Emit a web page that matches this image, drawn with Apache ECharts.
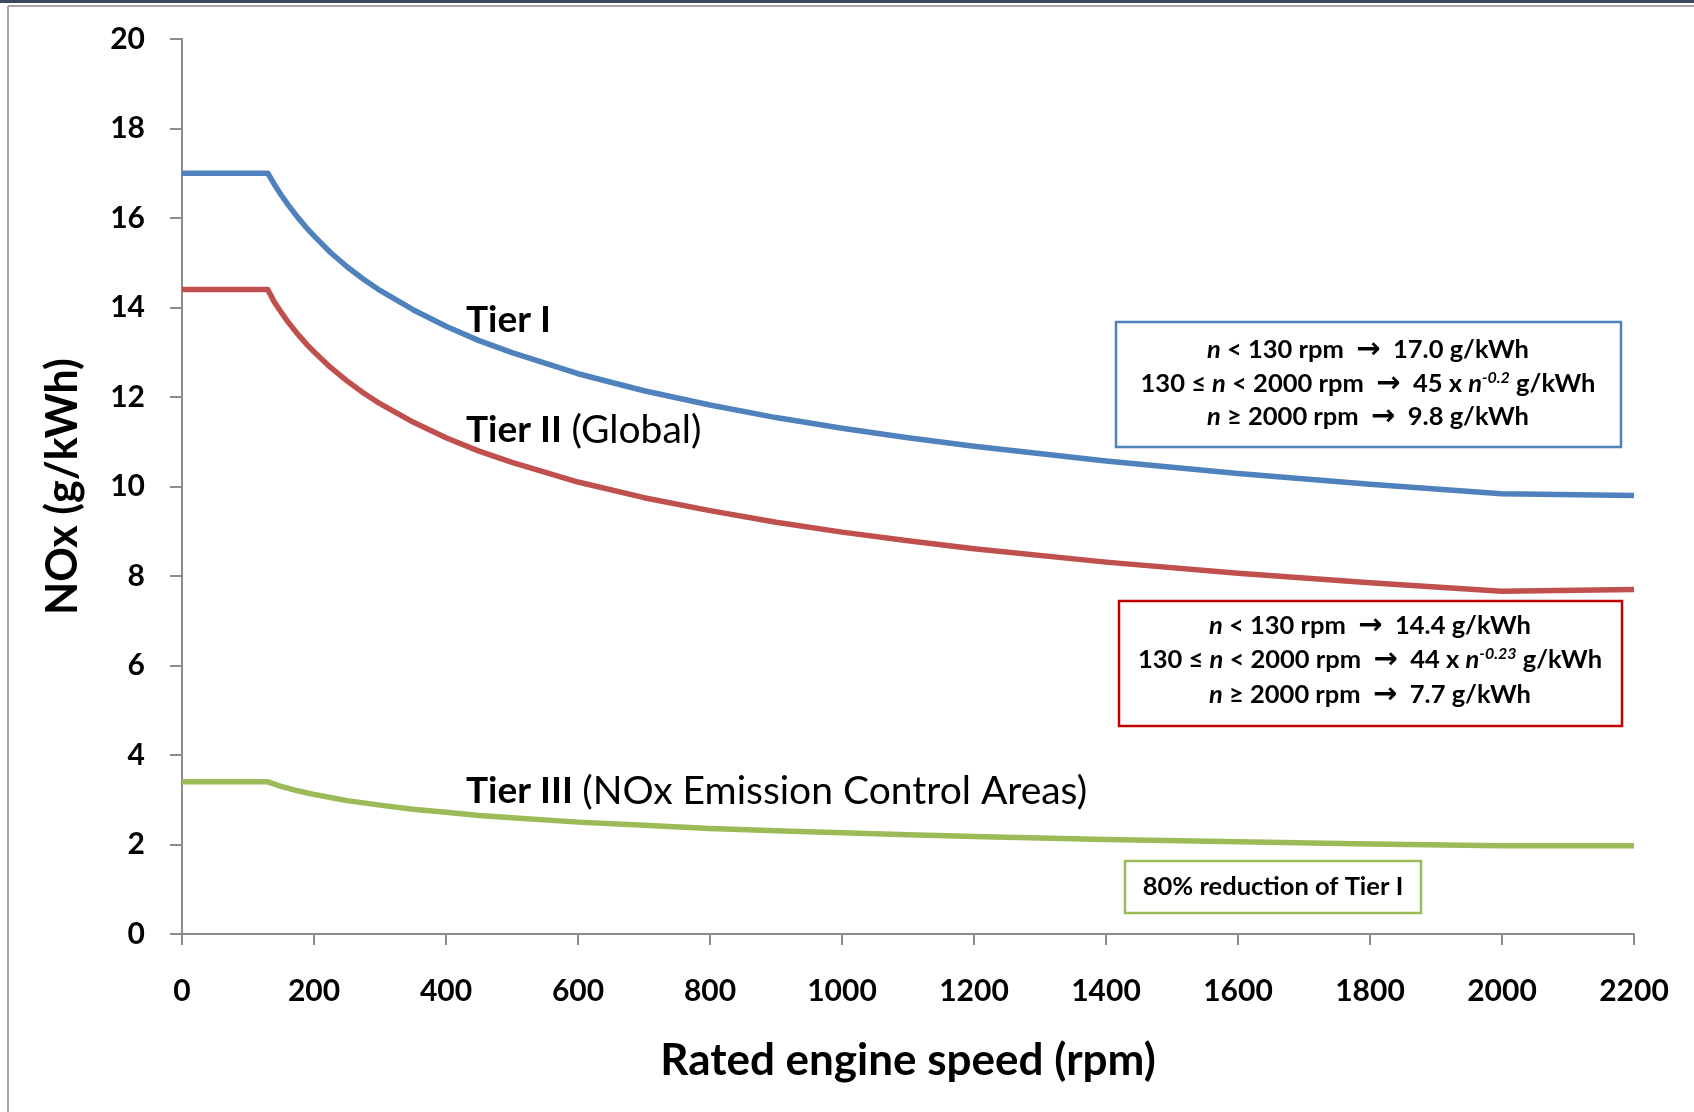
<!DOCTYPE html>
<html>
<head>
<meta charset="utf-8">
<script src="https://cdn.jsdelivr.net/npm/echarts@6/dist/echarts.min.js"></script>
<style>
html,body{margin:0;padding:0;background:#fff;}
#chart{width:1694px;height:1112px;}
</style>
</head>
<body>
<div id="chart"></div>
<script>
// Rated engine speed (rpm) sample points
const speeds = [0, 130, 140, 150, 160, 175, 190, 200, 225, 250, 275, 300, 350, 400, 450, 500, 600, 700, 800, 900, 1000, 1100, 1200, 1400, 1600, 1800, 1999, 2000, 2200];
// NOx limits (g/kWh)
const tier1 = [17.0, 17.0, 16.75, 16.52, 16.31, 16.02, 15.76, 15.6, 15.23, 14.91, 14.63, 14.38, 13.95, 13.58, 13.26, 12.99, 12.52, 12.14, 11.82, 11.54, 11.3, 11.09, 10.9, 10.57, 10.29, 10.05, 9.84, 9.8, 9.8];
const tier2 = [14.4, 14.4, 14.12, 13.9, 13.69, 13.41, 13.16, 13.01, 12.66, 12.36, 12.09, 11.85, 11.44, 11.09, 10.79, 10.54, 10.1, 9.75, 9.46, 9.2, 8.98, 8.79, 8.61, 8.31, 8.06, 7.85, 7.66, 7.7, 7.7];
const tier3 = [3.4, 3.4, 3.35, 3.3, 3.26, 3.2, 3.15, 3.12, 3.05, 2.98, 2.93, 2.88, 2.79, 2.72, 2.65, 2.6, 2.5, 2.43, 2.36, 2.31, 2.26, 2.22, 2.18, 2.11, 2.06, 2.01, 1.97, 1.97, 1.97];
const xTicks = {min: 0, max: 2200, interval: 200};
const yTicks = {min: 0, max: 20, interval: 2};

const zip = (xs, ys) => xs.map((x, i) => [x, ys[i]]);
const FONT = 'Lato, "Open Sans", sans-serif';

const chart = echarts.init(document.getElementById('chart'));

const boxRich = {
  b: {fontFamily: FONT, fontWeight: 'bold', fontSize: 25.5, color: '#000'},
  i: {fontFamily: FONT, fontWeight: 'bold', fontStyle: 'italic', fontSize: 25.5, color: '#000'},
  a: {fontFamily: '"DejaVu Sans", sans-serif', fontWeight: 'bold', fontSize: 29, color: '#000'},
  s: {fontFamily: FONT, fontWeight: 'bold', fontStyle: 'italic', fontSize: 16, color: '#000', verticalAlign: 'top', lineHeight: 14}
};
function boxLine(x, y, text) {
  return {type: 'text', x: x, y: y, z: 10,
    style: {text: text, rich: boxRich, align: 'center', verticalAlign: 'middle', fontFamily: FONT, fontSize: 25.5, fontWeight: 'bold'}};
}
const tierRich = {
  b: {fontFamily: FONT, fontWeight: 'bold', fontSize: 37, color: '#000'},
  r: {fontFamily: FONT, fontWeight: 'normal', fontSize: 39, color: '#000'}
};
function tierLabel(x, y, text) {
  return {type: 'text', x: x, y: y, z: 10,
    style: {text: text, rich: tierRich, align: 'left', verticalAlign: 'middle', fontFamily: FONT, fontSize: 37}};
}
const lineCommon = {type: 'line', showSymbol: false, smooth: false};

chart.setOption({
  backgroundColor: '#fff',
  animation: false,
  grid: {left: 182, right: 60, top: 39, bottom: 178, containLabel: false},
  xAxis: {
    type: 'value', min: xTicks.min, max: xTicks.max, interval: xTicks.interval,
    name: 'Rated engine speed (rpm)', nameLocation: 'middle', nameGap: 105,
    nameTextStyle: {fontFamily: FONT, fontWeight: 'bold', fontSize: 44, color: '#000'},
    axisLine: {show: true, lineStyle: {color: '#8c8c8c', width: 2}},
    axisTick: {show: true, length: 11, lineStyle: {color: '#8c8c8c', width: 2}},
    axisLabel: {fontFamily: FONT, fontWeight: 'bold', fontSize: 30, color: '#000', margin: 42, formatter: v => String(v)},
    splitLine: {show: false}
  },
  yAxis: {
    type: 'value', min: yTicks.min, max: yTicks.max, interval: yTicks.interval,
    name: 'NOx (g/kWh)', nameLocation: 'middle', nameGap: 97, nameRotate: 90,
    nameTextStyle: {fontFamily: FONT, fontWeight: 'bold', fontSize: 43, color: '#000'},
    axisLine: {show: true, lineStyle: {color: '#8c8c8c', width: 2}},
    axisTick: {show: true, length: 12, lineStyle: {color: '#8c8c8c', width: 2}},
    axisLabel: {fontFamily: FONT, fontWeight: 'bold', fontSize: 30, color: '#000', margin: 37},
    splitLine: {show: false}
  },
  series: [
    Object.assign({name: 'Tier I', data: zip(speeds, tier1), lineStyle: {color: '#4F81BD', width: 5.5, join: 'round'}, itemStyle: {color: '#4F81BD'}}, lineCommon),
    Object.assign({name: 'Tier II', data: zip(speeds, tier2), lineStyle: {color: '#C0504D', width: 5.5, join: 'round'}, itemStyle: {color: '#C0504D'}}, lineCommon),
    Object.assign({name: 'Tier III', data: zip(speeds, tier3), lineStyle: {color: '#9BBB59', width: 5.5, join: 'round'}, itemStyle: {color: '#9BBB59'}}, lineCommon)
  ],
  graphic: [
    // frame
    {type: 'rect', shape: {x: 0, y: 0, width: 1694, height: 3}, style: {fill: '#3b4a5e'}, silent: true},
    {type: 'line', shape: {x1: 8, y1: 6, x2: 1694, y2: 6}, style: {stroke: '#a6a6a6', lineWidth: 2}, silent: true},
    {type: 'line', shape: {x1: 8, y1: 6, x2: 8, y2: 1112}, style: {stroke: '#a6a6a6', lineWidth: 2}, silent: true},
    // tier labels
    tierLabel(466, 320, '{b|Tier I}'),
    tierLabel(466, 430, '{b|Tier II} {r|(Global)}'),
    tierLabel(466, 791, '{b|Tier III} {r|(NOx Emission Control Areas)}'),
    // blue box
    {type: 'rect', shape: {x: 1116, y: 322, width: 505, height: 125}, style: {fill: '#fff', stroke: '#4F81BD', lineWidth: 2.5}, z: 5},
    boxLine(1368, 350, '{i|n}{b| < 130 rpm  }{a|→}{b|  17.0 g/kWh}'),
    boxLine(1368, 384, '{b|130 ≤ }{i|n}{b| < 2000 rpm  }{a|→}{b|  45 x }{i|n}{s|-0.2}{b| g/kWh}'),
    boxLine(1368, 417, '{i|n}{b| ≥ 2000 rpm  }{a|→}{b|  9.8 g/kWh}'),
    // red box
    {type: 'rect', shape: {x: 1119, y: 601, width: 503, height: 125}, style: {fill: '#fff', stroke: '#C00000', lineWidth: 2.5}, z: 5},
    boxLine(1370, 626, '{i|n}{b| < 130 rpm  }{a|→}{b|  14.4 g/kWh}'),
    boxLine(1370, 660, '{b|130 ≤ }{i|n}{b| < 2000 rpm  }{a|→}{b|  44 x }{i|n}{s|-0.23}{b| g/kWh}'),
    boxLine(1370, 695, '{i|n}{b| ≥ 2000 rpm  }{a|→}{b|  7.7 g/kWh}'),
    // green box
    {type: 'rect', shape: {x: 1125, y: 861, width: 296, height: 52}, style: {fill: '#fff', stroke: '#9BBB59', lineWidth: 2.5}, z: 5},
    boxLine(1273, 887, '{b|80% reduction of Tier I}')
  ]
});
</script>
</body>
</html>
